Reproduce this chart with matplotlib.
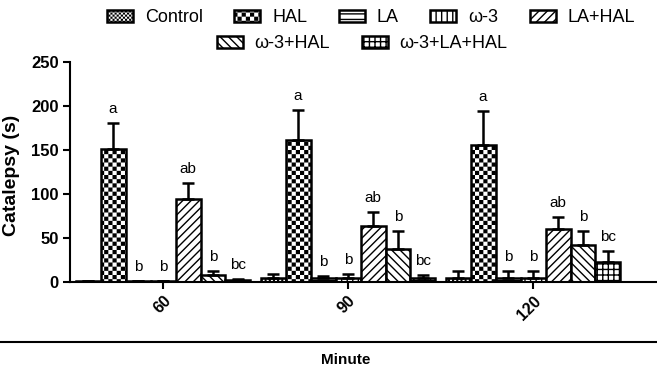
import warnings
import numpy as np
import matplotlib
matplotlib.use("Agg")
import matplotlib.pyplot as plt
import matplotlib.hatch as mhatch
from matplotlib.path import Path
from matplotlib.lines import Line2D

warnings.filterwarnings("ignore")

# Data: mean and upper SEM per treatment at each time point
minutes = ['60', '90', '120']
treatments = ['Control', 'HAL', 'LA', 'ω-3', 'LA+HAL', 'ω-3+HAL', 'ω-3+LA+HAL']

control_mean = [1, 5, 5]
control_sem = [0.5, 4, 7]
hal_mean = [151, 161, 156]
hal_sem = [30, 34, 38]
la_mean = [1, 4, 5]
la_sem = [0.5, 3, 7]
w3_mean = [1, 5, 5]
w3_sem = [0.5, 4, 7]
la_hal_mean = [94, 64, 60]
la_hal_sem = [19, 16, 14]
w3_hal_mean = [8, 37, 42]
w3_hal_sem = [5, 21, 16]
w3_la_hal_mean = [2, 5, 23]
w3_la_hal_sem = [1, 3, 12]

letters = ['', 'a', 'b', 'b', 'ab', 'b', 'bc']

means = [control_mean, hal_mean, la_mean, w3_mean, la_hal_mean, w3_hal_mean, w3_la_hal_mean]
sems = [control_sem, hal_sem, la_sem, w3_sem, la_hal_sem, w3_hal_sem, w3_la_hal_sem]


# checkerboard hatch ('c'), not built into matplotlib
class CheckerHatch(mhatch.HatchPatternBase):
    def __init__(self, hatch, density):
        n = hatch.count('c') * density
        self.num_cells = 2 * (n // 2)
        self.num_vertices = (self.num_cells ** 2 // 2) * 5

    def set_vertices_and_codes(self, vertices, codes):
        n = self.num_cells
        step = 1.0 / n
        inset = 0.5 / 72  # compensate for hatch stroke
        k = 0
        for i in range(n):
            for j in range(n):
                if (i + j) % 2:
                    continue
                x0, y0 = i * step + inset, j * step + inset
                x1, y1 = (i + 1) * step - inset, (j + 1) * step - inset
                vertices[k:k + 5] = [[x0, y0], [x1, y0], [x1, y1], [x0, y1], [x0, y0]]
                codes[k:k + 5] = [Path.MOVETO, Path.LINETO, Path.LINETO,
                                  Path.LINETO, Path.CLOSEPOLY]
                k += 5


mhatch._hatch_types.append(CheckerHatch)

hatches = ['cccccccc', 'cccc', '---', '|||', '////', '\\\\\\\\', '+++']

plt.rcParams['font.family'] = ['Liberation Sans', 'DejaVu Sans']
plt.rcParams['hatch.linewidth'] = 1.0

fig = plt.figure(figsize=(6.57, 3.69), dpi=100)
ax = fig.add_axes([70 / 657, 87 / 369, 587 / 657, 220 / 369])

x = np.arange(len(minutes))
width = 0.135

for i, name in enumerate(treatments):
    pos = x + (i - 3) * width
    ax.bar(pos, means[i], width, yerr=[np.zeros(len(minutes)), sems[i]],
           color='white', edgecolor='black', linewidth=1.8, hatch=hatches[i],
           label=name,
           error_kw=dict(elinewidth=1.8, capsize=4.5, capthick=1.8, ecolor='black'))
    for px, m, s in zip(pos, means[i], sems[i]):
        if letters[i]:
            ax.annotate(letters[i], (px, m + s), xytext=(0, 5), textcoords='offset points',
                        ha='center', va='bottom', fontsize=11)

ax.set_xlim(-0.503, 2.67)
ax.set_ylim(0, 250)
ax.set_yticks([0, 50, 100, 150, 200, 250])
ax.set_xticks(x, minutes)
for lab in ax.get_xticklabels():
    lab.set_rotation(45)
    lab.set_ha('right')
    lab.set_va('top')
    lab.set_rotation_mode('anchor')
    lab.set_fontweight('bold')
    lab.set_fontsize(11.5)
for lab in ax.get_yticklabels():
    lab.set_fontweight('bold')
    lab.set_fontsize(12)

ax.spines['top'].set_visible(False)
ax.spines['right'].set_visible(False)
ax.spines['left'].set_linewidth(1.5)
ax.spines['bottom'].set_linewidth(1.5)
ax.tick_params(width=1.5, length=5, direction='out', pad=3)

ax.set_ylabel('Catalepsy (s)', fontsize=14, fontweight='bold')
ax.yaxis.set_label_coords(-0.085, 0.486)

# legend in two centred rows
handles, labels = ax.get_legend_handles_labels()
leg1 = fig.legend(handles[:5], labels[:5], loc='center', bbox_to_anchor=(371 / 657, 1 - 18 / 369),
                  ncol=5, frameon=False, fontsize=13, handlelength=1.45, handleheight=0.6,
                  handletextpad=0.65, columnspacing=1.75, borderaxespad=0, borderpad=0)
leg2 = fig.legend(handles[5:], labels[5:], loc='center', bbox_to_anchor=(362 / 657, 1 - 44 / 369),
                  ncol=2, frameon=False, fontsize=13, handlelength=1.45, handleheight=0.6,
                  handletextpad=0.65, columnspacing=1.75, borderaxespad=0, borderpad=0)

# x-axis title with rule
fig.add_artist(Line2D([0, 1], [1 - 342 / 369] * 2, transform=fig.transFigure,
                      color='black', linewidth=1.5))
fig.text(346 / 657, 1 - 360 / 369, 'Minute', ha='center', va='center',
         fontsize=11, fontweight='bold')

fig.savefig('out.png', dpi=100)
